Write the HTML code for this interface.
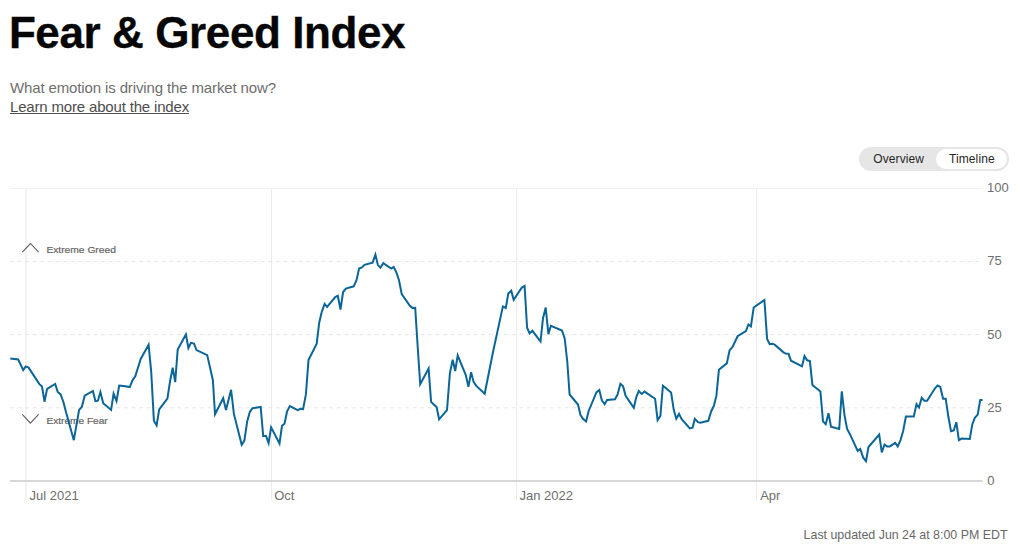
<!DOCTYPE html>
<html><head><meta charset="utf-8">
<style>
html,body{margin:0;padding:0;background:#fff;}
body{width:1020px;height:544px;position:relative;overflow:hidden;font-family:"Liberation Sans",sans-serif;}
.abs{position:absolute;white-space:nowrap;}
#title{left:8.9px;top:9px;font-size:44px;font-weight:bold;color:#060606;line-height:48px;letter-spacing:-0.4px;-webkit-text-stroke:0.35px #060606;}
#sub{left:10px;top:79px;font-size:15px;letter-spacing:-0.13px;color:#6e6e6e;line-height:18px;}
#link{left:10px;top:98px;font-size:15px;letter-spacing:-0.17px;color:#4d4d4d;line-height:18px;text-decoration:underline;}
#toggle{left:859px;top:147px;width:150px;height:24px;border-radius:12px;background:#e6e6e6;}
#tl{left:936px;top:149px;width:71px;height:20px;border-radius:10px;background:#fff;}
.tg{font-size:12px;letter-spacing:0.1px;color:#262626;line-height:14px;}
#upd{right:12.5px;top:528px;font-size:12.4px;color:#686868;line-height:14px;}
svg{position:absolute;left:0;top:0;}
svg text{font-family:"Liberation Sans",sans-serif;}
</style></head><body>
<div id="title" class="abs">Fear &amp; Greed Index</div>
<div id="sub" class="abs">What emotion is driving the market now?</div>
<div id="link" class="abs">Learn more about the index</div>
<div id="toggle" class="abs"></div><div id="tl" class="abs"></div>
<div class="abs tg" style="left:873.3px;top:152px;">Overview</div>
<div class="abs tg" style="left:949px;top:152px;">Timeline</div>
<svg width="1020" height="544" viewBox="0 0 1020 544">
<g shape-rendering="crispEdges">
<rect x="25" y="188" width="2" height="312" fill="#f3f3f3"/>
<rect x="271" y="188" width="1" height="312" fill="#ececec"/>
<rect x="516" y="188" width="1" height="312" fill="#ececec"/>
<rect x="756" y="188" width="1" height="312" fill="#ececec"/>
</g>
<g stroke="#e6e6e6" stroke-width="1" stroke-dasharray="3.8 3.8" fill="none">
<line x1="10" y1="188.5" x2="982.5" y2="188.5" stroke-dasharray="none" stroke="#f0f0f0"/>
<line x1="10" y1="261.6" x2="982.5" y2="261.6"/>
<line x1="10" y1="334.6" x2="982.5" y2="334.6"/>
<line x1="10" y1="407.8" x2="982.5" y2="407.8"/>
</g>
<rect x="10" y="480" width="972.5" height="2" fill="#d6d6d6"/>
<g font-size="13" fill="#6e6e6e">
<text x="987" y="192">100</text>
<text x="987.3" y="265.3">75</text>
<text x="987.3" y="338.5">50</text>
<text x="987.3" y="411.7">25</text>
<text x="987.3" y="485">0</text>
<text x="29.5" y="500">Jul 2021</text>
<text x="274.2" y="500">Oct</text>
<text x="519.5" y="500">Jan 2022</text>
<text x="760.2" y="500">Apr</text>
</g>
<g font-size="9" fill="#666" stroke="#666" stroke-width="0.2">
<text x="46.4" y="252.6" textLength="69.5" lengthAdjust="spacingAndGlyphs">Extreme Greed</text>
<text x="46.4" y="424" textLength="61.3" lengthAdjust="spacingAndGlyphs">Extreme Fear</text>
</g>
<g stroke="#5e5e5e" stroke-width="1.1" fill="none">
<polyline points="22.3,252.2 30.5,243.5 38.6,252.2"/>
<polyline points="22.3,414.4 30.4,423.1 38.6,414.4"/>
</g>
<polyline id="ln" fill="none" stroke="#0b6597" stroke-width="2" stroke-linejoin="miter" stroke-linecap="butt" points="10.3,358.6 18.2,359.5 23.2,370.1 25.7,366.4 28.6,367.6 39.2,383.9 42.0,386.4 44.5,401.7 47.1,388.8 55.2,384.0 57.7,391.9 60.6,394.4 63.4,402.0 66.1,412.6 73.8,440.2 79.1,409.9 81.8,407.0 84.7,395.7 92.9,391.0 95.4,401.1 97.9,400.7 100.4,392.0 103.2,403.2 111.1,409.9 113.6,393.6 116.5,401.0 119.2,385.6 123.6,385.9 129.8,387.1 132.5,380.2 135.3,376.2 140.7,358.9 148.6,344.8 151.2,371.7 153.9,420.8 156.6,425.4 159.2,409.5 167.4,398.6 170.1,381.0 172.7,367.7 175.2,382.1 177.7,349.5 185.9,334.4 188.4,348.0 190.9,342.8 194.0,343.6 196.5,350.1 207.2,355.1 212.9,380.2 215.0,414.3 223.2,398.2 226.0,409.9 231.1,389.8 233.9,413.9 241.7,444.7 244.2,440.9 244.4,440.5 247.2,421.4 249.8,412.0 252.5,408.2 260.7,407.0 263.2,436.2 266.0,435.8 268.6,443.0 271.1,427.4 279.5,443.5 282.0,425.8 284.5,423.7 287.1,411.4 289.9,406.1 297.7,410.1 300.5,408.8 303.1,409.1 305.9,394.4 308.5,360.1 316.7,343.6 319.2,322.7 321.7,312.1 324.6,303.9 327.1,307.0 335.2,297.0 337.8,295.7 340.5,309.5 343.1,292.0 345.9,288.6 353.7,286.3 356.5,280.1 359.1,268.5 361.9,267.5 364.5,264.9 372.6,262.6 375.4,254.6 377.9,265.1 380.4,267.6 383.3,263.2 391.2,268.6 393.7,267.0 396.5,272.6 399.0,280.2 401.7,294.0 409.9,305.8 412.5,307.9 415.2,307.7 417.5,343.8 420.2,384.1 428.6,368.5 431.1,401.9 433.8,404.5 436.6,407.0 439.1,419.3 447.0,410.1 449.9,373.1 452.7,359.7 455.2,371.0 457.7,355.3 465.8,375.0 468.4,386.9 471.1,372.3 473.6,381.9 476.3,385.9 484.7,393.8 492.8,353.0 502.9,306.4 505.8,307.9 508.3,293.6 511.2,290.7 513.7,299.8 521.7,287.8 524.6,286.0 527.1,327.7 529.6,333.3 532.4,330.8 540.5,341.5 543.0,318.3 545.7,307.5 548.4,334.1 550.9,325.8 562.0,330.6 564.7,338.4 567.3,362.0 569.6,394.5 578.0,404.5 580.5,415.0 583.2,419.0 586.1,421.5 588.6,411.2 596.4,392.4 599.3,390.1 601.8,400.2 604.6,404.2 607.1,399.9 615.0,399.2 617.7,394.1 620.4,383.8 623.1,386.4 625.6,395.8 633.8,407.7 636.3,397.0 638.8,391.1 641.7,393.9 644.5,391.6 655.1,398.7 657.6,420.2 660.4,415.8 662.9,385.7 671.1,392.6 673.7,409.6 676.3,418.7 679.0,413.9 681.7,419.2 689.8,428.4 692.6,427.7 694.8,418.7 697.9,422.1 700.4,422.7 708.3,420.8 711.2,411.2 713.9,405.8 716.4,395.7 718.9,369.8 726.8,363.4 729.6,350.2 732.4,347.1 737.6,336.2 745.9,331.1 748.4,324.5 750.9,326.4 753.7,307.5 764.4,300.0 767.1,338.9 769.7,344.2 772.5,343.7 775.0,344.9 783.2,352.1 785.6,353.6 788.5,353.8 791.0,360.7 802.0,366.4 804.5,356.1 807.2,360.3 809.9,361.1 812.4,384.9 820.4,391.5 823.0,421.4 825.7,424.2 828.5,413.2 831.0,426.7 839.2,428.9 841.8,391.3 844.5,415.1 847.1,428.9 849.8,433.9 857.7,450.9 860.2,449.0 863.2,457.7 866.0,461.2 868.5,447.0 879.2,434.5 881.8,452.4 884.5,444.5 887.1,446.4 889.8,446.4 895.2,442.9 897.7,446.4 900.5,440.1 903.1,431.3 905.9,416.5 913.8,416.5 916.5,404.1 919.0,407.5 921.7,397.8 924.4,400.8 927.1,400.8 935.0,388.3 937.6,385.5 940.3,387.0 943.1,398.7 945.7,398.7 948.3,416.3 951.0,431.3 953.7,430.5 956.3,422.2 958.9,440.1 961.6,438.6 969.8,438.9 972.3,424.4 974.8,417.9 977.7,414.6 980.2,400.0 982.6,400.0"/>
</svg>
<div id="upd" class="abs">Last updated Jun 24 at 8:00 PM EDT</div>
</body></html>
